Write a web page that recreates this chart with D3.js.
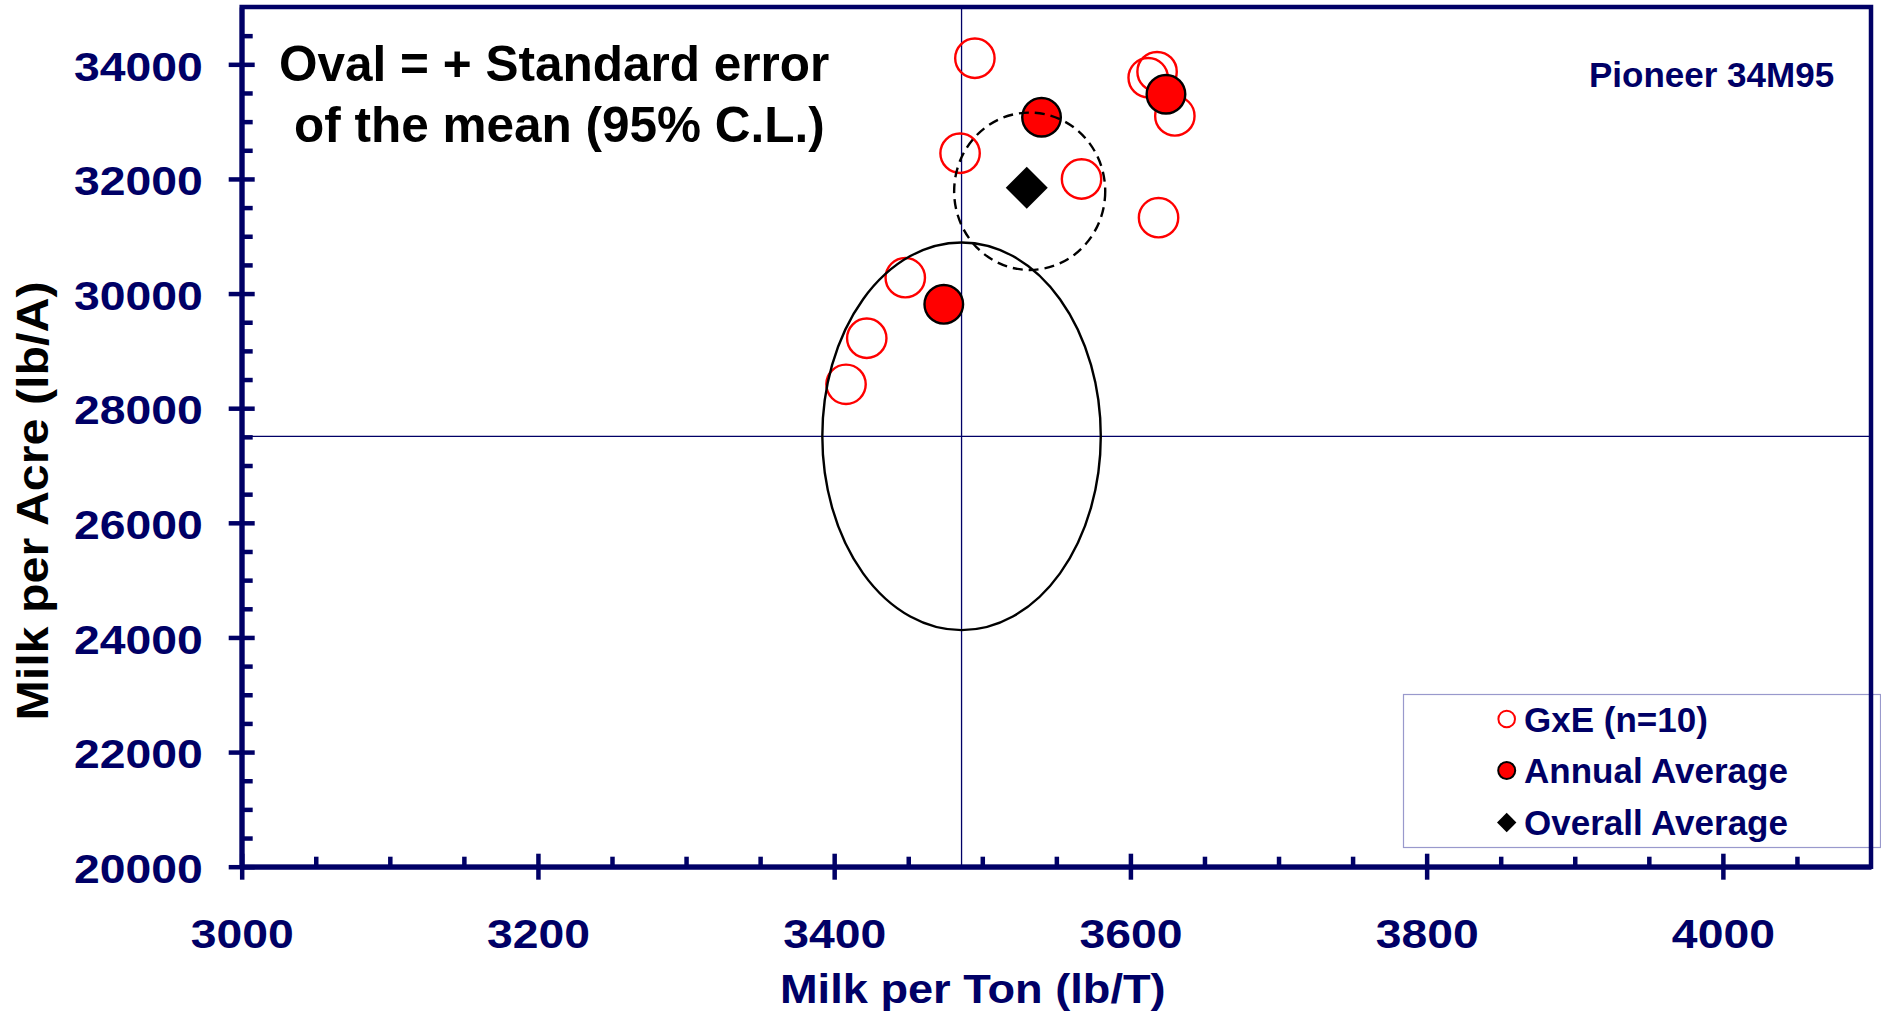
<!DOCTYPE html>
<html><head><meta charset="utf-8">
<script src="https://cdn.jsdelivr.net/npm/d3@7"></script>
<style>
html,body{margin:0;padding:0;background:#fff;}
svg{display:block;font-family:"Liberation Sans",Arial,sans-serif;font-weight:bold;}
</style></head><body>
<svg id="chart" width="1881" height="1014"></svg>
<script>
// ---- data ----
const xTickValues = [3000, 3200, 3400, 3600, 3800, 4000];
const xMinorTicks = [3050, 3100, 3150, 3250, 3300, 3350, 3450, 3500, 3550, 3650, 3700, 3750, 3850, 3900, 3950, 4050];
const yTickValues = [20000, 22000, 24000, 26000, 28000, 30000, 32000, 34000];
const yMinorTicks = [20500, 21000, 21500, 22500, 23000, 23500, 24500, 25000, 25500, 26500, 27000, 27500,
                     28500, 29000, 29500, 30500, 31000, 31500, 32500, 33000, 33500, 34500];

const gxeX = [3495, 3612, 3618, 3630, 3485, 3567, 3619, 3448, 3422, 3408];
const gxeY = [34106, 33767, 33872, 33099, 32448, 31999, 31324, 30277, 29220, 28417];

const annualX = [3540, 3624, 3474];
const annualY = [33076, 33478, 29813];

const overallX = [3530];
const overallY = [31848];

// ovals: [reference group, this hybrid]
const ovalCX = [3486, 3532];
const ovalCY = [27510, 31785];
const ovalRX = [94, 51];
const ovalRY = [3382, 1373];

const refLineX = 3486;
const refLineY = 27510;

const legendLabels = ["GxE (n=10)", "Annual Average", "Overall Average"];
const xTitle = "Milk per Ton (lb/T)";
const yTitle = "Milk per Acre (lb/A)";
const noteLines = ["Oval = + Standard error", "of the mean (95% C.L.)"];
const hybridName = "Pioneer 34M95";

// ---- drawing ----
const NAVY = "#000066";
const svg = d3.select("#chart");
const L = 241.7, R = 1871, T = 7, B = 866.7;
const x = d3.scaleLinear().domain([3000, 4100]).range([L, R]);
const y = d3.scaleLinear().domain([20000, 35000]).range([B, T]);
const SX = 1.13;

// crosshair reference lines
svg.append("line").attr("x1", x(refLineX)).attr("x2", x(refLineX)).attr("y1", T).attr("y2", B)
  .attr("stroke", NAVY).attr("stroke-width", 1.3);
svg.append("line").attr("x1", L).attr("x2", R).attr("y1", y(refLineY)).attr("y2", y(refLineY))
  .attr("stroke", NAVY).attr("stroke-width", 1.3);

// GxE open circles
svg.append("g").selectAll("circle").data(gxeX).join("circle")
  .attr("cx", d => x(d)).attr("cy", (d, i) => y(gxeY[i])).attr("r", 19.7)
  .attr("fill", "none").attr("stroke", "#ff0000").attr("stroke-width", 2.4);

// Annual averages
svg.append("g").selectAll("circle").data(annualX).join("circle")
  .attr("cx", d => x(d)).attr("cy", (d, i) => y(annualY[i])).attr("r", 19.3)
  .attr("fill", "#ff0000").attr("stroke", "#000").attr("stroke-width", 2.4);

// Overall average diamond
svg.append("g").selectAll("path").data(overallX).join("path")
  .attr("transform", (d, i) => `translate(${x(d)},${y(overallY[i])})`)
  .attr("d", "M0,-21L21,0L0,21L-21,0Z").attr("fill", "#000");

// ovals
svg.append("g").selectAll("ellipse").data(ovalCX).join("ellipse")
  .attr("cx", d => x(d)).attr("cy", (d, i) => y(ovalCY[i]))
  .attr("rx", (d, i) => x(d + ovalRX[i]) - x(d))
  .attr("ry", (d, i) => y(ovalCY[i] - ovalRY[i]) - y(ovalCY[i]))
  .attr("fill", "none").attr("stroke", "#000").attr("stroke-width", 2.4)
  .attr("stroke-dasharray", (d, i) => i === 1 ? "10,6" : null);

// legend
const lg = svg.append("g");
lg.append("rect").attr("x", 1403.5).attr("y", 694.5).attr("width", 477).attr("height", 153)
  .attr("fill", "#fff").attr("stroke", "#9999cc").attr("stroke-width", 1.2);
const legY = [719, 770.5, 822.5];
lg.append("circle").attr("cx", 1506.7).attr("cy", legY[0]).attr("r", 8.3)
  .attr("fill", "none").attr("stroke", "#ff0000").attr("stroke-width", 2);
lg.append("circle").attr("cx", 1506.7).attr("cy", legY[1]).attr("r", 8.5)
  .attr("fill", "#ff0000").attr("stroke", "#000").attr("stroke-width", 2);
lg.append("path").attr("transform", `translate(1506.7,${legY[2]})`)
  .attr("d", "M0,-9.7L9.7,0L0,9.7L-9.7,0Z").attr("fill", "#000");
lg.selectAll("text").data(legendLabels).join("text")
  .attr("x", 1524).attr("y", (d, i) => legY[i] + 12.5)
  .attr("font-size", 35).attr("fill", NAVY).text(d => d);

// plot border (top/right)
svg.append("rect").attr("x", L).attr("y", T).attr("width", R - L).attr("height", B - T)
  .attr("fill", "none").attr("stroke", NAVY).attr("stroke-width", 4.5);

// x axis
const gxMinor = svg.append("g").attr("transform", `translate(0,${B})`)
  .call(d3.axisBottom(x).tickValues(xMinorTicks).tickSize(-10).tickSizeOuter(0).tickFormat(""));
gxMinor.select(".domain").remove();
gxMinor.selectAll(".tick line").attr("stroke", NAVY).attr("stroke-width", 4.5);

const gx = svg.append("g").attr("transform", `translate(0,${B})`)
  .call(d3.axisBottom(x).tickValues(xTickValues).tickSize(13).tickSizeOuter(0).tickFormat(d3.format("d")));
gx.select(".domain").attr("stroke", NAVY).attr("stroke-width", 5);
gx.selectAll(".tick line").attr("y1", -13).attr("y2", 13).attr("stroke", NAVY).attr("stroke-width", 4.5);
gx.selectAll(".tick text").attr("dy", null).attr("y", 81.6)
  .attr("transform", `scale(${SX},1)`)
  .attr("font-size", 41).attr("font-family", '"Liberation Sans",Arial,sans-serif')
  .attr("font-weight", "bold").attr("fill", NAVY);

// y axis
const gyMinor = svg.append("g").attr("transform", `translate(${L},0)`)
  .call(d3.axisLeft(y).tickValues(yMinorTicks).tickSize(-11).tickSizeOuter(0).tickFormat(""));
gyMinor.select(".domain").remove();
gyMinor.selectAll(".tick line").attr("stroke", NAVY).attr("stroke-width", 4.5);

const gy = svg.append("g").attr("transform", `translate(${L},0)`)
  .call(d3.axisLeft(y).tickValues(yTickValues).tickSize(13).tickSizeOuter(0).tickFormat(d3.format("d")));
gy.select(".domain").attr("stroke", NAVY).attr("stroke-width", 5);
gy.selectAll(".tick line").attr("x1", -13).attr("x2", 13).attr("stroke", NAVY).attr("stroke-width", 4.5);
gy.selectAll(".tick text").attr("dy", null).attr("y", 15.7).attr("x", -39 / SX)
  .attr("transform", `scale(${SX},1)`)
  .attr("font-size", 41).attr("font-family", '"Liberation Sans",Arial,sans-serif')
  .attr("font-weight", "bold").attr("fill", NAVY);

// axis titles
svg.append("text").attr("transform", `translate(972.8,1003.3) scale(${SX},1)`)
  .attr("text-anchor", "middle").attr("font-size", 40).attr("fill", NAVY).text(xTitle);
svg.append("text").attr("transform", `translate(47.5,501) rotate(-90) scale(1.1,1)`)
  .attr("text-anchor", "middle").attr("font-size", 44).attr("fill", "#000").text(yTitle);

// note
const noteX = [279, 294];
const noteBase = [81, 142];
svg.append("g").selectAll("text").data(noteLines).join("text")
  .attr("x", (d, i) => noteX[i]).attr("y", (d, i) => noteBase[i])
  .attr("font-size", 49.5).attr("fill", "#000").text(d => d);

// hybrid name
svg.append("text").attr("x", 1589).attr("y", 87).attr("font-size", 35).attr("fill", NAVY).text(hybridName);
</script>
</body></html>
